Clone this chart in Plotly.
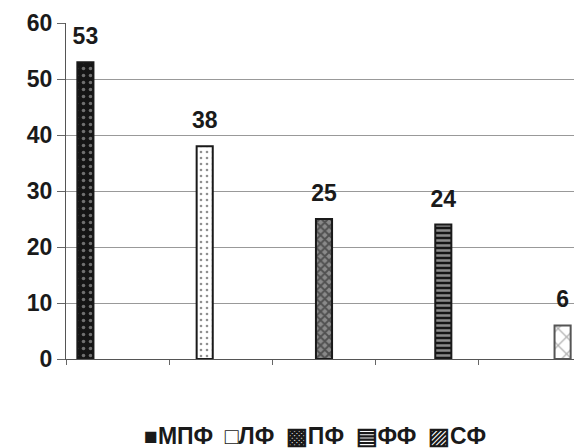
import plotly.graph_objects as go

categories = ["МПФ", "ЛФ", "ПФ", "ФФ", "СФ"]
values = [53, 38, 25, 24, 6]
y_ticks = [0, 10, 20, 30, 40, 50, 60]
legend_keys = ["■", "□", "▩", "▤", "▨"]

patterns = [
    dict(shape=".", fgcolor="#cccccc", bgcolor="#151515", size=7, solidity=0.2),
    dict(shape=".", fgcolor="#222222", bgcolor="#ffffff", size=6, solidity=0.15),
    dict(shape="x", fgcolor="#151515", bgcolor="#8a8a8a", size=6, solidity=0.55),
    dict(shape="-", fgcolor="#ffffff", bgcolor="#151515", size=5, solidity=0.5),
    dict(shape="x", fgcolor="#666666", bgcolor="#ffffff", size=12, solidity=0.2),
]
edge_colors = ["#1a1a1a", "#1a1a1a", "#1a1a1a", "#1a1a1a", "#555555"]

FONT = "Liberation Sans, Arial, sans-serif"
fig = go.Figure()
for i, name in enumerate(categories):
    ys = [values[i] if j == i else None for j in range(len(categories))]
    fig.add_trace(go.Bar(
        x=categories, y=ys, name=name, offsetgroup=str(i),
        marker=dict(color=patterns[i]["bgcolor"], pattern=patterns[i],
                    line=dict(color=edge_colors[i], width=2)),
        hoverinfo="skip", showlegend=False,
    ))
for i, name in enumerate(categories):
    ys = [values[i] if j == i else None for j in range(len(categories))]
    txt = [str(values[i]) if j == i else "" for j in range(len(categories))]
    fig.add_trace(go.Scatter(
        x=categories, y=ys, offsetgroup=str(i), mode="markers+text",
        text=txt, textposition="top center",
        textfont=dict(family=FONT, size=23, color="#1a1a1a", weight="bold"),
        marker=dict(size=18, opacity=0), showlegend=False, hoverinfo="skip",
        cliponaxis=False,
    ))

legend_text = "\u2002".join(k + n for k, n in zip(legend_keys, categories))
fig.add_annotation(
    text=legend_text, xref="paper", yref="paper", x=0.483, y=-0.23,
    xanchor="center", yanchor="middle", showarrow=False,
    font=dict(family=FONT, size=23, weight="bold", color="#1a1a1a"),
)

fig.update_layout(
    width=574, height=440,
    barmode="group", scattermode="group", bargap=0.22, bargroupgap=0,
    plot_bgcolor="white", paper_bgcolor="white",
    margin=dict(l=58, r=0, t=15, b=89, autoexpand=False),
    font=dict(family=FONT, color="#1a1a1a"),
    showlegend=False,
    xaxis=dict(showticklabels=False, tickson="boundaries", ticks="outside",
               ticklen=5, tickcolor="#666666", showline=True, linecolor="#555555",
               showgrid=False, zeroline=False, range=[-0.5, 4.5], automargin=False),
    yaxis=dict(range=[0, 60], tickvals=y_ticks, ticks="outside", ticklen=8,
               tickcolor="#666666", showline=True, linecolor="#555555",
               showgrid=True, gridcolor="#999999", gridwidth=1, zeroline=False,
               automargin=False,
               tickfont=dict(family=FONT, size=23, weight="bold", color="#1a1a1a")),
)
fig.write_html("out.html")
